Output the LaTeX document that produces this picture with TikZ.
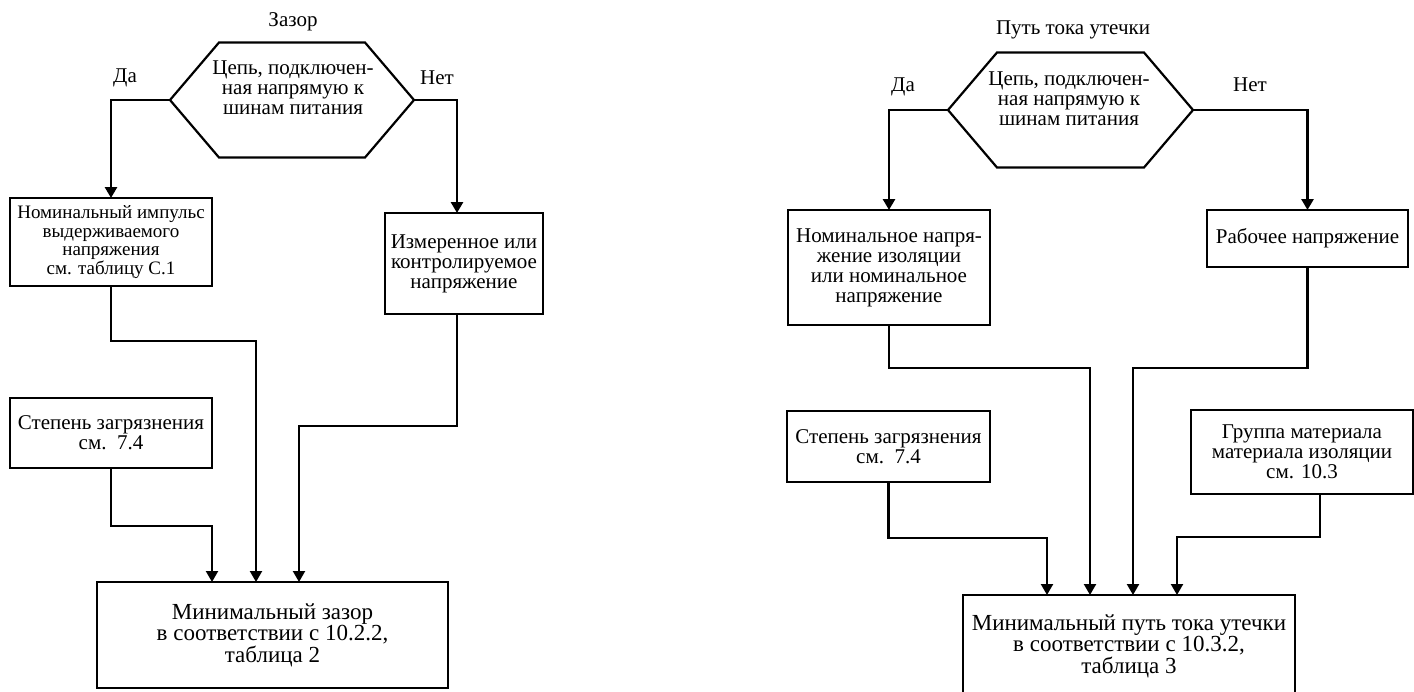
\documentclass[tikz,border=0pt]{standalone}
\usepackage{fontspec}
\setmainfont{Liberation Serif}
\usetikzlibrary{arrows.meta}
\usetikzlibrary{positioning}

\newcommand{\boxfont}{\fontsize{21}{20}\selectfont}
\newcommand{\tightfont}{\fontsize{19}{18.5}\selectfont}
\newcommand{\bigboxfont}{\fontsize{23}{21.5}\selectfont}

\tikzset{
    box/.style={draw, line width=2.2pt, align=center, inner sep=0pt, outer sep=0pt, font=\boxfont},
    hexa/.style={inner sep=0pt, outer sep=0pt, minimum width=244pt, minimum height=115pt},
    lbl/.style={inner sep=0pt, font=\boxfont},
    edge/.style={line width=2.2pt, line join=miter},
    arr/.style={line width=2.2pt, -{Triangle[width=12pt,length=11pt]}},
    toparr/.style={arr, line width=2.8pt}
}

\begin{document}
\begin{tikzpicture}[x=1pt, y=-1pt]
        \useasboundingbox (0,0) rectangle (1414,691);

        % clearance
        \node[lbl] (titleL) at (293,22) {Зазор};
        \node[hexa] (decL) at (292,100) {};
        \node[lbl, align=center] (decLtext) at (293,88) {Цепь, подключен-\\ная напрямую к\\шинам питания};
        \node[lbl] (yesL) at (125,78) {Да};
        \node[lbl] (noL) at (437,78) {Нет};
        \node[box, font=\tightfont, minimum width=202pt, minimum height=88pt] (impL) at (111,242)
            {Номинальный импульс\\выдерживаемого\\напряжения\\см. таблицу С.1};
        \node[box, minimum width=158pt, minimum height=101pt] (measL) at (464,263.5)
            {Измеренное или\\контролируемое\\напряжение};
        \node[box, minimum width=202pt, minimum height=70pt] (polL) at (111,433)
            {Степень загрязнения\\см.~~7.4};
        \node[box, font=\bigboxfont, minimum width=351pt, minimum height=106pt] (minL) at (272.5,635)
            {Минимальный зазор\\в соответствии с 10.2.2,\\таблица 2};

        % creepage
        \node[lbl] (titleR) at (1073,30) {Путь тока утечки};
        \node[hexa, minimum width=245pt] (decR) at (1070.5,110) {};
        \node[lbl, align=center] (decRtext) at (1069,99) {Цепь, подключен-\\ная напрямую к\\шинам питания};
        \node[lbl] (yesR) at (903,87) {Да};
        \node[lbl] (noR) at (1250,85) {Нет};
        \node[box, minimum width=202pt, minimum height=115pt] (nomR) at (889,267.5)
            {Номинальное напря-\\жение изоляции\\или номинальное\\напряжение};
        \node[box, minimum width=201pt, minimum height=57pt] (workR) at (1307.5,238.5)
            {Рабочее напряжение};
        \node[box, minimum width=203pt, minimum height=71pt] (polR) at (888.5,446.5)
            {Степень загрязнения\\см.~~7.4};
        \node[box, minimum width=222pt, minimum height=84pt] (grpR) at (1302,452)
            {Группа материала\\материала изоляции\\см. 10.3};
        \node[box, font=\bigboxfont, minimum width=332pt, minimum height=102pt] (minR) at (1129,646)
            {Минимальный путь тока утечки\\в соответствии с 10.3.2,\\таблица 3};

        \foreach \h in {decL,decR}
            \draw[edge] (\h.west) -- ([xshift=49pt]\h.north west) -- ([xshift=-49pt]\h.north east)
                -- (\h.east) -- ([xshift=-49pt]\h.south east) -- ([xshift=49pt]\h.south west) -- cycle;

        \draw[toparr] (decL.west) -| (impL.north);
        \draw[toparr] (decL.east) -| ([xshift=-7pt]measL.north);
        \draw[arr] (impL.south) -- ++(0,55) -| ([xshift=-16.5pt]minL.north);
        \draw[arr] ([xshift=-7pt]measL.south) -- ++(0,112) -| ([xshift=26.5pt]minL.north);
        \draw[arr] (polL.south) -- ++(0,58) -| ([xshift=-60.5pt]minL.north);

        \draw[toparr] (decR.west) -| (nomR.north);
        \draw[toparr] (decR.east) -| (workR.north);
        \draw[arr] (nomR.south) -- ++(0,43) -| ([xshift=-39pt]minR.north);
        \draw[arr] (workR.south) -- ++(0,101) -| ([xshift=4pt]minR.north);
        \draw[arr] (polR.south) -- ++(0,56) -| ([xshift=-82pt]minR.north);
        \draw[arr] ([xshift=18pt]grpR.south) -- ++(0,43) -| ([xshift=48pt]minR.north);
\end{tikzpicture}
\end{document}
